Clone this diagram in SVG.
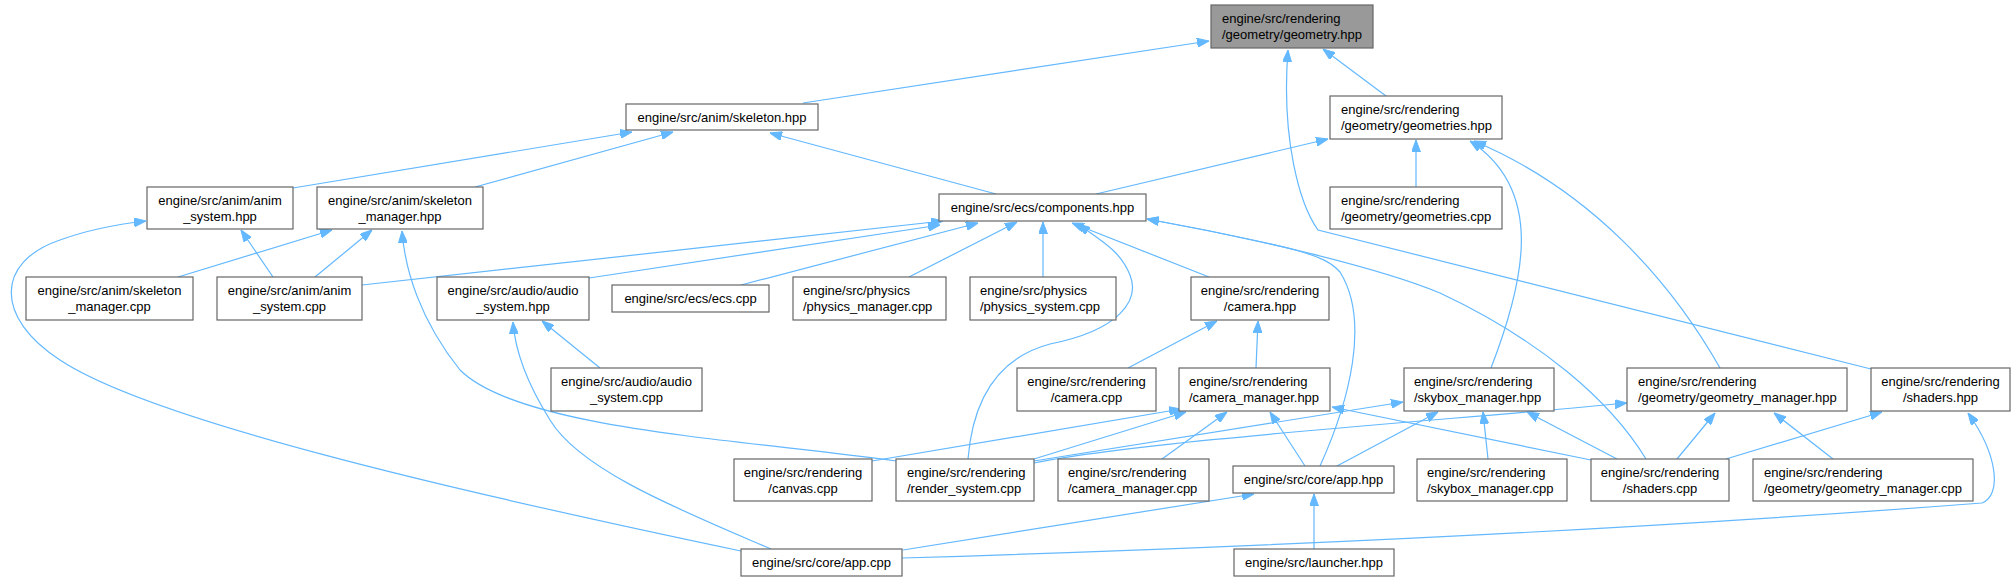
<svg xmlns="http://www.w3.org/2000/svg" width="2015" height="581" viewBox="0 0 2015 581">
<style>
.n rect{fill:#fff;stroke:#666;stroke-width:1.2}
.n.hl rect{fill:#999}
.n text{font-family:"Liberation Sans",Arial,sans-serif;font-size:13px;fill:#000}
.c{text-anchor:middle}
.e path{fill:none;stroke:#63b8ff;stroke-width:1.2;marker-end:url(#ah)}
</style>
<defs>
<marker id="ah" viewBox="0 0 12 9" refX="12" refY="4.5" markerWidth="12" markerHeight="9" markerUnits="userSpaceOnUse" orient="auto">
<path d="M0,0 L12,4.5 L0,9 z" fill="#63b8ff" stroke="#63b8ff" stroke-width="1"/>
</marker>
</defs>
<rect width="2015" height="581" fill="#fff"/>
<g id="edges" class="e">
<path d="M803,103 L1209,41"/>
<path d="M1386,96 L1323,49"/>
<path d="M1871,369 L1318,230 C1300,205 1281,140 1288,50"/>
<path d="M293,188 L632,132"/>
<path d="M475,187 L673,132"/>
<path d="M996,194 L770,133"/>
<path d="M1096,194 L1328,139"/>
<path d="M1416,187 L1416,140"/>
<path d="M1491,368 C1525,280 1545,190 1470,141"/>
<path d="M1720,368 C1670,280 1590,190 1474,141"/>
<path d="M273,277 L241,230"/>
<path d="M315,277 L372,230"/>
<path d="M178,277 L332,230"/>
<path d="M741,551 C450,490 150,420 60,360 C-5,318 -5,262 60,240 C90,229 120,224 146,221"/>
<path d="M362,285 L943,221"/>
<path d="M589,278 L940,225"/>
<path d="M741,285 L978,223"/>
<path d="M909,277 L1017,222"/>
<path d="M1043,277 L1043,222"/>
<path d="M1209,277 L1072,223"/>
<path d="M968,459 C972,410 990,360 1050,344 C1120,330 1140,300 1130,275 C1120,250 1100,240 1078,224"/>
<path d="M1320,466 C1350,400 1370,320 1340,272 C1325,255 1300,248 1147,219"/>
<path d="M1646,459 C1610,400 1540,340 1440,293 C1380,268 1250,237 1147,219"/>
<path d="M1128,368 L1217,321"/>
<path d="M1256,368 L1258,321"/>
<path d="M872,461 L1181,409"/>
<path d="M1034,459 L1186,412"/>
<path d="M1162,459 L1227,412"/>
<path d="M1305,466 L1270,412"/>
<path d="M1591,460 L1332,407"/>
<path d="M1034,461 L1403,402"/>
<path d="M1034,463 C1150,440 1450,420 1627,403"/>
<path d="M1337,466 L1438,412"/>
<path d="M1488,459 L1483,412"/>
<path d="M1617,459 L1527,412"/>
<path d="M1677,459 L1715,413"/>
<path d="M1833,459 L1774,413"/>
<path d="M1726,459 L1882,412"/>
<path d="M902,558 Q1500,540 1982,503 C2002,495 1998,455 1968,413"/>
<path d="M1314,549 L1314,494"/>
<path d="M903,550 L1254,494"/>
<path d="M600,368 L542,321"/>
<path d="M771,549 C680,510 580,470 550,420 C525,380 515,350 513,322"/>
<path d="M896,461 C750,440 520,430 460,370 C420,320 405,270 402,231"/>
</g>
<g id="n_geometry_hpp" class="n hl"><rect x="1211" y="5" width="162" height="43"/><text x="1222" y="23">engine/src/rendering</text><text x="1222" y="39">/geometry/geometry.hpp</text></g>
<g id="n_skeleton_hpp" class="n"><rect x="626" y="104" width="192" height="26"/><text class="c" x="722" y="122">engine/src/anim/skeleton.hpp</text></g>
<g id="n_geometries_hpp" class="n"><rect x="1330" y="96" width="172" height="43"/><text x="1341" y="114">engine/src/rendering</text><text x="1341" y="130">/geometry/geometries.hpp</text></g>
<g id="n_anim_system_hpp" class="n"><rect x="147" y="187" width="146" height="42"/><text class="c" x="220" y="205">engine/src/anim/anim</text><text class="c" x="220" y="221">_system.hpp</text></g>
<g id="n_skeleton_manager_hpp" class="n"><rect x="317" y="187" width="166" height="42"/><text class="c" x="400" y="205">engine/src/anim/skeleton</text><text class="c" x="400" y="221">_manager.hpp</text></g>
<g id="n_components_hpp" class="n"><rect x="939" y="194" width="207" height="27"/><text class="c" x="1042.5" y="212">engine/src/ecs/components.hpp</text></g>
<g id="n_geometries_cpp" class="n"><rect x="1330" y="187" width="172" height="42"/><text x="1341" y="205">engine/src/rendering</text><text x="1341" y="221">/geometry/geometries.cpp</text></g>
<g id="n_skeleton_manager_cpp" class="n"><rect x="26" y="277" width="167" height="43"/><text class="c" x="109.5" y="295">engine/src/anim/skeleton</text><text class="c" x="109.5" y="311">_manager.cpp</text></g>
<g id="n_anim_system_cpp" class="n"><rect x="217" y="277" width="145" height="43"/><text class="c" x="289.5" y="295">engine/src/anim/anim</text><text class="c" x="289.5" y="311">_system.cpp</text></g>
<g id="n_audio_system_hpp" class="n"><rect x="437" y="277" width="152" height="43"/><text class="c" x="513" y="295">engine/src/audio/audio</text><text class="c" x="513" y="311">_system.hpp</text></g>
<g id="n_ecs_cpp" class="n"><rect x="612" y="285" width="157" height="27"/><text class="c" x="690.5" y="303">engine/src/ecs/ecs.cpp</text></g>
<g id="n_physics_manager_cpp" class="n"><rect x="793" y="277" width="153" height="43"/><text x="803" y="295">engine/src/physics</text><text x="803" y="311">/physics_manager.cpp</text></g>
<g id="n_physics_system_cpp" class="n"><rect x="970" y="277" width="146" height="43"/><text x="980" y="295">engine/src/physics</text><text x="980" y="311">/physics_system.cpp</text></g>
<g id="n_camera_hpp" class="n"><rect x="1191" y="277" width="138" height="43"/><text class="c" x="1260" y="295">engine/src/rendering</text><text class="c" x="1260" y="311">/camera.hpp</text></g>
<g id="n_audio_system_cpp" class="n"><rect x="551" y="368" width="151" height="43"/><text class="c" x="626.5" y="386">engine/src/audio/audio</text><text class="c" x="626.5" y="402">_system.cpp</text></g>
<g id="n_camera_cpp" class="n"><rect x="1017" y="368" width="139" height="43"/><text class="c" x="1086.5" y="386">engine/src/rendering</text><text class="c" x="1086.5" y="402">/camera.cpp</text></g>
<g id="n_camera_manager_hpp" class="n"><rect x="1179" y="368" width="151" height="43"/><text x="1189" y="386">engine/src/rendering</text><text x="1189" y="402">/camera_manager.hpp</text></g>
<g id="n_skybox_manager_hpp" class="n"><rect x="1404" y="368" width="150" height="43"/><text x="1414" y="386">engine/src/rendering</text><text x="1414" y="402">/skybox_manager.hpp</text></g>
<g id="n_geometry_manager_hpp" class="n"><rect x="1627" y="368" width="220" height="43"/><text x="1638" y="386">engine/src/rendering</text><text x="1638" y="402">/geometry/geometry_manager.hpp</text></g>
<g id="n_shaders_hpp" class="n"><rect x="1871" y="368" width="139" height="43"/><text class="c" x="1940.5" y="386">engine/src/rendering</text><text class="c" x="1940.5" y="402">/shaders.hpp</text></g>
<g id="n_canvas_cpp" class="n"><rect x="734" y="459" width="138" height="42"/><text class="c" x="803" y="477">engine/src/rendering</text><text class="c" x="803" y="493">/canvas.cpp</text></g>
<g id="n_render_system_cpp" class="n"><rect x="896" y="459" width="138" height="42"/><text x="907" y="477">engine/src/rendering</text><text x="907" y="493">/render_system.cpp</text></g>
<g id="n_camera_manager_cpp" class="n"><rect x="1058" y="459" width="151" height="42"/><text x="1068" y="477">engine/src/rendering</text><text x="1068" y="493">/camera_manager.cpp</text></g>
<g id="n_app_hpp" class="n"><rect x="1233" y="466" width="161" height="27"/><text class="c" x="1313.5" y="484">engine/src/core/app.hpp</text></g>
<g id="n_skybox_manager_cpp" class="n"><rect x="1417" y="459" width="150" height="42"/><text x="1427" y="477">engine/src/rendering</text><text x="1427" y="493">/skybox_manager.cpp</text></g>
<g id="n_shaders_cpp" class="n"><rect x="1591" y="459" width="138" height="42"/><text class="c" x="1660" y="477">engine/src/rendering</text><text class="c" x="1660" y="493">/shaders.cpp</text></g>
<g id="n_geometry_manager_cpp" class="n"><rect x="1753" y="459" width="220" height="42"/><text x="1764" y="477">engine/src/rendering</text><text x="1764" y="493">/geometry/geometry_manager.cpp</text></g>
<g id="n_app_cpp" class="n"><rect x="741" y="549" width="161" height="27"/><text class="c" x="821.5" y="567">engine/src/core/app.cpp</text></g>
<g id="n_launcher_hpp" class="n"><rect x="1234" y="549" width="160" height="27"/><text class="c" x="1314" y="567">engine/src/launcher.hpp</text></g>
</svg>
